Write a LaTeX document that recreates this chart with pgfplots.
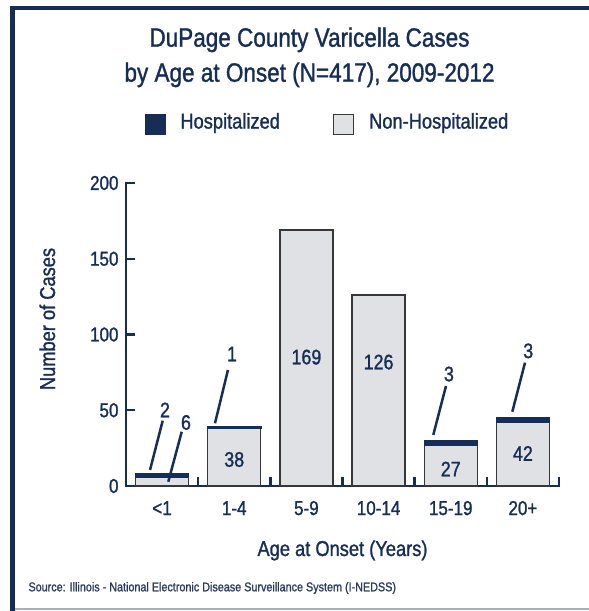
\documentclass[border=0pt]{standalone}
\usepackage{fontspec}
\setmainfont{Liberation Sans}[FakeStretch=0.85, FakeBold=1.2]
\usepackage{pgfplots}
\pgfplotsset{compat=1.18}
\definecolor{navy}{RGB}{22,45,85}
\definecolor{srcnavy}{RGB}{42,58,95}
\definecolor{lgray}{RGB}{224,225,228}
\definecolor{dgray}{RGB}{55,55,58}
\definecolor{framebot}{RGB}{168,174,194}
\newcommand{\fs}[1]{\fontsize{#1}{#1}\selectfont}
\begin{document}
\begin{tikzpicture}
\useasboundingbox (0pt,0pt) rectangle (589pt,611pt);
% frame
\fill[navy] (10pt,0pt) rectangle (15pt,604.5pt);
\fill[navy] (10pt,601pt) rectangle (589pt,604.5pt);
\fill[framebot] (15pt,1pt) rectangle (589pt,3pt);
% titles and labels
\node[anchor=base, text=navy, font=\fs{26.5}, inner sep=0pt] at (309.5pt,564.3pt) {DuPage County Varicella Cases};
\node[anchor=base, text=navy, font=\fs{26.5}, inner sep=0pt] at (309.5pt,529.3pt) {by Age at Onset (N=417), 2009-2012};
\node[anchor=base, text=navy, font=\fs{21.5}, inner sep=0pt] at (342.5pt,55pt) {Age at Onset (Years)};
\node[anchor=base, rotate=90, text=navy, font=\fs{21.5}, inner sep=0pt] at (55pt,292pt) {Number of Cases};
\node[anchor=base west, text=srcnavy, font=\fs{12.7}, inner sep=0pt] at (28.3pt,19.7pt) {Source: Illinois - National Electronic Disease Surveillance System (I-NEDSS)};
\begin{axis}[
  at={(126pt,125pt)}, anchor=south west, scale only axis,
  width=433pt, height=303pt,
  xmin=-0.5, xmax=5.5, ymin=0, ymax=200,
  axis lines=left,
  axis line style={navy, line width=2.6pt, line cap=rect, -},
  ybar stacked, reverse stacked plots=false, bar width=53pt,
  tick align=inside, major tick length=9pt,
  tick style={navy, line width=2.4pt},
  ytick={0,50,100,150,200},
  /pgf/number format/assume math mode=true,
  yticklabel style={font=\fs{20}, text=navy, xshift=-4pt},
  xtick={-0.5,0.5,1.5,2.5,3.5,4.5,5.5}, xticklabels={},
  extra x ticks={0,1,2,3,4,5},
  extra x tick labels={<1,1-4,5-9,10-14,15-19,20+},
  extra x tick style={major tick length=0pt, tick label style={font=\fs{20}, text=navy, anchor=base, yshift=-29pt}},
  clip=false,
  legend columns=2,
  legend cell align=left,
  legend style={at={(0.0439,1.2376)}, anchor=north west, draw=none, fill=none,
    inner sep=0pt, outer sep=0pt, font=\fs{21.5}, text=navy,
    /tikz/every odd column/.append style={column sep=13pt},
    /tikz/every even column/.append style={column sep=51pt}},
]
\addlegendimage{legend image code/.code={\draw[fill=navy,draw=navy] (0pt,-12.6pt) rectangle (20pt,7.4pt);}}
\addlegendentry{Hospitalized}
\addlegendimage{legend image code/.code={\draw[fill=lgray,draw=dgray,line width=1.2pt] (0pt,-12.6pt) rectangle (20pt,7.4pt);}}
\addlegendentry{Non-Hospitalized}
\addplot[fill=lgray, draw=dgray, line width=1.4pt, forget plot] coordinates {(0,6) (1,38) (2,169) (3,126) (4,27) (5,42)};
\addplot[fill=navy, draw=navy, line width=1.5pt, forget plot] coordinates {(0,2) (1,1) (2,0) (3,0) (4,3) (5,3)};
% leader lines and labels
\draw[navy, line width=2.5pt] (axis cs:0.0085,43.1) -- (axis cs:-0.167,10.6);
\draw[navy, line width=2.5pt] (axis cs:0.272,35.8) -- (axis cs:0.086,2.8);
\draw[navy, line width=2.5pt] (axis cs:0.913,76.6) -- (axis cs:0.733,41.4);
\draw[navy, line width=2.5pt] (axis cs:3.934,66.0) -- (axis cs:3.758,33.7);
\draw[navy, line width=2.5pt] (axis cs:5.029,81.4) -- (axis cs:4.853,49.0);
\node[text=navy, font=\fs{21}] at (axis cs:0.040,50.2) {2};
\node[text=navy, font=\fs{21}] at (axis cs:0.331,41.9) {6};
\node[text=navy, font=\fs{21}] at (axis cs:0.969,87.1) {1};
\node[text=navy, font=\fs{21}] at (axis cs:3.975,73.9) {3};
\node[text=navy, font=\fs{21}] at (axis cs:5.074,89.2) {3};
\node[text=navy, font=\fs{21}] at (axis cs:1,17.5) {38};
\node[text=navy, font=\fs{21}] at (axis cs:2,85.1) {169};
\node[text=navy, font=\fs{21}] at (axis cs:3,81.8) {126};
\node[text=navy, font=\fs{21}] at (axis cs:4,11.2) {27};
\node[text=navy, font=\fs{21}] at (axis cs:5,21.5) {42};
\end{axis}
\end{tikzpicture}
\end{document}
